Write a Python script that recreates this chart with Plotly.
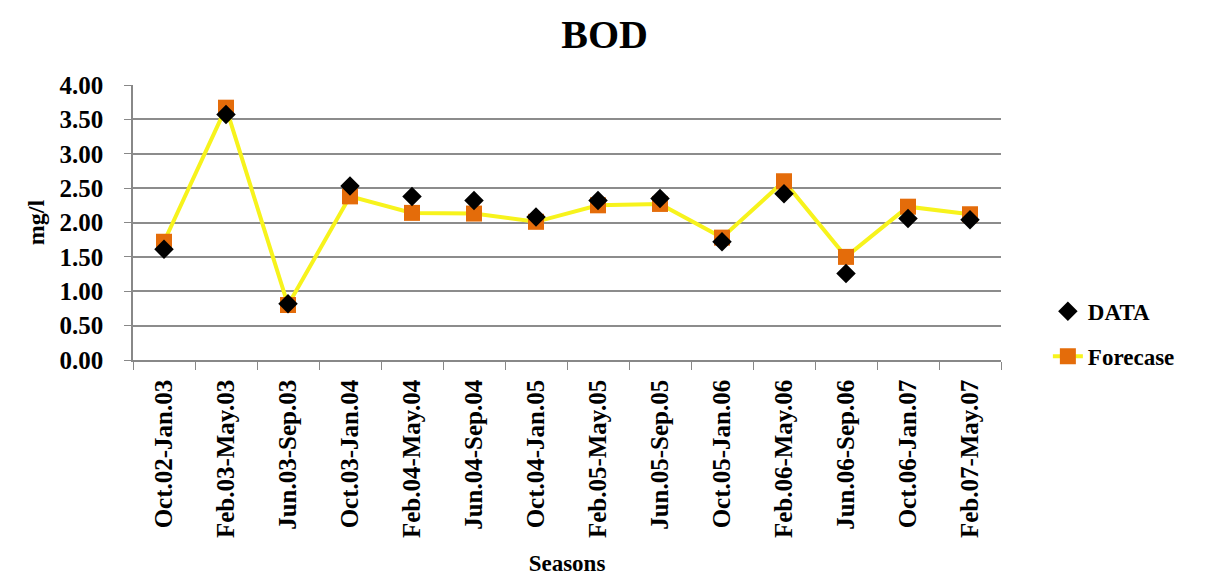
import plotly.graph_objects as go

seasons = ["Oct.02-Jan.03", "Feb.03-May.03", "Jun.03-Sep.03", "Oct.03-Jan.04",
           "Feb.04-May.04", "Jun.04-Sep.04", "Oct.04-Jan.05", "Feb.05-May.05",
           "Jun.05-Sep.05", "Oct.05-Jan.06", "Feb.06-May.06", "Jun.06-Sep.06",
           "Oct.06-Jan.07", "Feb.07-May.07"]
data_vals = [1.61, 3.57, 0.82, 2.53, 2.38, 2.32, 2.08, 2.32, 2.35, 1.72, 2.42, 1.26, 2.06, 2.04]
forecast_vals = [1.72, 3.67, 0.80, 2.38, 2.14, 2.13, 2.01, 2.25, 2.27, 1.78, 2.60, 1.50, 2.23, 2.12]
y_ticks = [0, 0.5, 1.0, 1.5, 2.0, 2.5, 3.0, 3.5, 4.0]

FONT = "Liberation Serif"

fig = go.Figure()
fig.add_trace(go.Scatter(
    x=seasons, y=forecast_vals, name="Forecase", mode="lines+markers",
    line=dict(color="#F7F31C", width=4),
    marker=dict(symbol="square", size=16, color="#E46C0A"),
    legendrank=2, legendgroup="f",
))
fig.add_trace(go.Scatter(
    x=seasons, y=data_vals, name="DATA", mode="markers",
    marker=dict(symbol="diamond", size=15, color="black"),
    legendrank=1, legendgroup="d",
))

fig.update_layout(
    width=1215, height=582,
    margin=dict(l=125, r=222, t=77, b=230),
    paper_bgcolor="white", plot_bgcolor="white",
    title=dict(text="BOD", x=0.491, xanchor="center", y=0.955, yanchor="middle",
               font=dict(family=FONT, size=40, color="black", weight="bold")),
    font=dict(family=FONT, color="black"),
    legend=dict(x=1.054, xanchor="left", y=0.095, yanchor="middle",
                font=dict(family=FONT, size=23, color="black", weight="bold"),
                tracegroupgap=12, bgcolor="rgba(0,0,0,0)"),
    xaxis=dict(
        type="category", range=[-0.5, len(seasons) - 0.5],
        tickangle=-90, tickson="boundaries", ticks="outside",
        ticklen=8, tickcolor="#888888", showline=True, linecolor="#888888", linewidth=1.5,
        showgrid=False, ticklabelstandoff=8,
        tickfont=dict(family=FONT, size=25, color="black", weight="bold"),
        title=dict(text="Seasons", font=dict(family=FONT, size=23, weight="bold"), standoff=18),
    ),
    yaxis=dict(
        range=[0, 4.0], tickvals=y_ticks,
        ticktext=[f"{v:.2f}" for v in y_ticks],
        tickfont=dict(family=FONT, size=25, color="black", weight="bold"),
        ticks="outside", ticklen=7, tickcolor="#888888", ticklabelstandoff=16,
        showline=True, linecolor="#888888", linewidth=1.5,
        showgrid=True, gridcolor="#8c8c8c", gridwidth=1.5,
        zeroline=False,
        title=dict(text="mg/l", font=dict(family=FONT, size=24, weight="bold"), standoff=8),
    ),
)

fig.write_html("out.html")
